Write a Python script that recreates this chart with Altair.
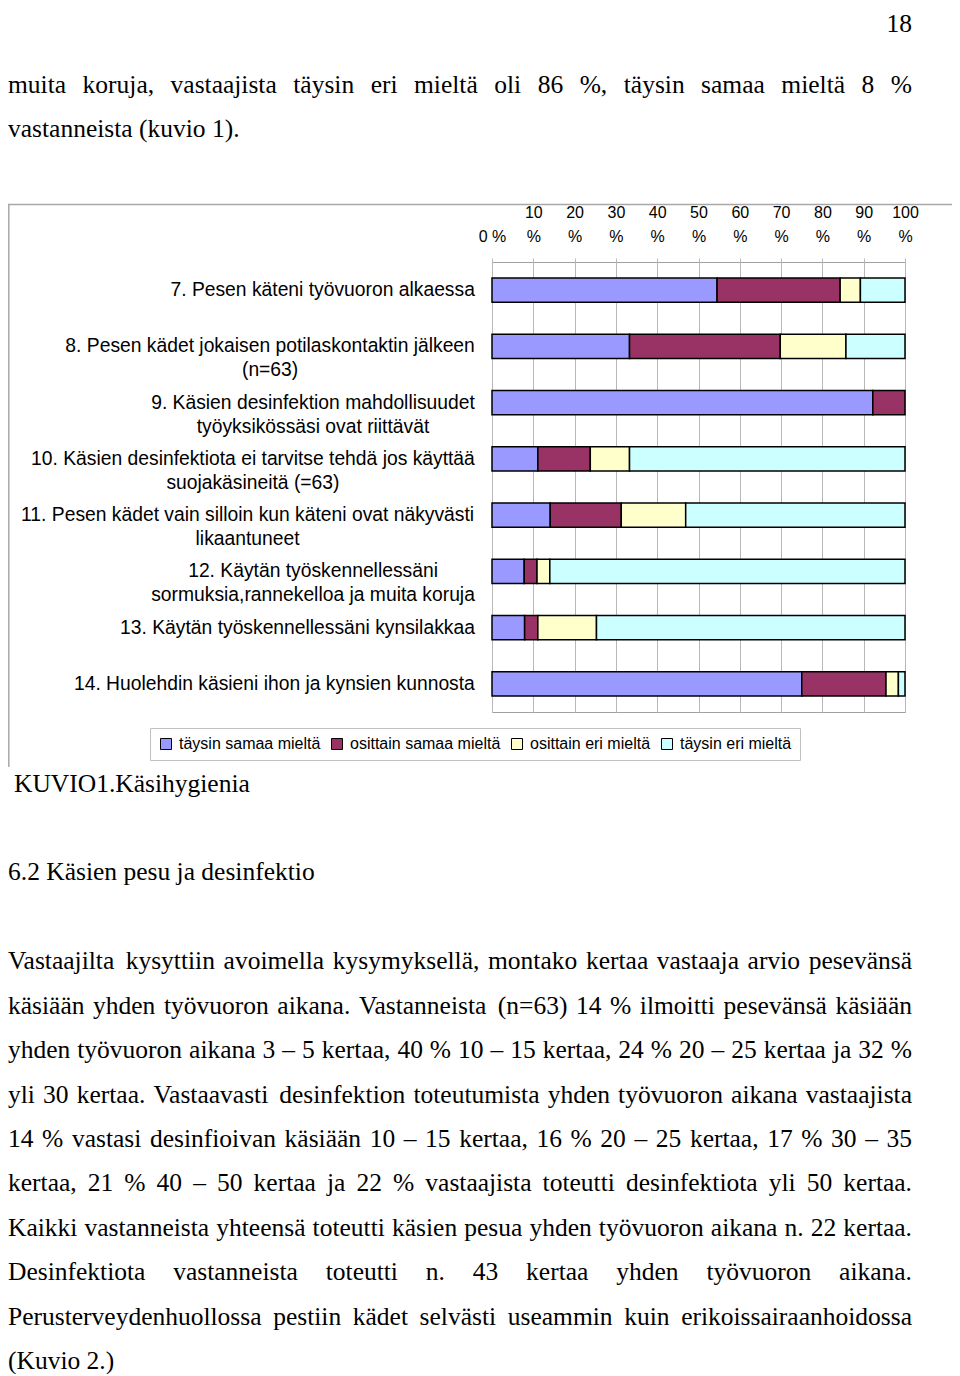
import altair as alt
import pandas as pd

# ---------------- data ----------------
categories = [
    "7. Pesen käteni työvuoron alkaessa",
    "8. Pesen kädet jokaisen potilaskontaktin jälkeen\n(n=63)",
    "9. Käsien desinfektion mahdollisuudet\ntyöyksikössäsi ovat riittävät",
    "10. Käsien desinfektiota ei tarvitse tehdä jos käyttää\nsuojakäsineitä (=63)",
    "11. Pesen kädet vain silloin kun käteni ovat näkyvästi\nlikaantuneet",
    "12. Käytän työskennellessäni\nsormuksia,rannekelloa ja muita koruja",
    "13. Käytän työskennellessäni kynsilakkaa",
    "14. Huolehdin käsieni ihon ja kynsien kunnosta",
]
series = ["täysin samaa mieltä", "osittain samaa mieltä", "osittain eri mieltä", "täysin eri mieltä"]
taysin_samaa = [54.5, 33.3, 92.2, 11.1, 14.1, 7.8, 7.9, 75.0]
osittain_samaa = [29.8, 36.5, 7.8, 12.7, 17.2, 3.1, 3.2, 20.4]
osittain_eri = [4.9, 15.9, 0.0, 9.5, 15.6, 3.1, 14.2, 3.0]
taysin_eri = [10.8, 14.3, 0.0, 66.7, 53.1, 86.0, 74.7, 1.6]
x_ticks = [0, 10, 20, 30, 40, 50, 60, 70, 80, 90, 100]

page_number = "18"
intro_lines = [
    "muita koruja, vastaajista täysin eri mieltä oli 86 %, täysin samaa mieltä 8 %",
    "vastanneista (kuvio 1).",
]
caption = "KUVIO1.Käsihygienia"
heading = "6.2 Käsien pesu ja desinfektio"
paragraph_lines = [
    "Vastaajilta kysyttiin avoimella kysymyksellä, montako kertaa vastaaja arvio pesevänsä",
    "käsiään yhden työvuoron aikana. Vastanneista (n=63) 14 % ilmoitti pesevänsä käsiään",
    "yhden työvuoron aikana 3 – 5 kertaa, 40 % 10 – 15 kertaa, 24 % 20 – 25 kertaa ja 32 %",
    "yli 30 kertaa. Vastaavasti desinfektion toteutumista yhden työvuoron aikana vastaajista",
    "14 % vastasi desinfioivan käsiään 10 – 15 kertaa, 16 % 20 – 25 kertaa, 17 % 30 – 35",
    "kertaa, 21 % 40 – 50 kertaa ja 22 % vastaajista toteutti desinfektiota yli 50 kertaa.",
    "Kaikki vastanneista yhteensä toteutti käsien pesua yhden työvuoron aikana n. 22 kertaa.",
    "Desinfektiota vastanneista toteutti n. 43 kertaa yhden työvuoron aikana.",
    "Perusterveydenhuollossa pestiin kädet selvästi useammin kuin erikoissairaanhoidossa",
    "(Kuvio 2.)",
]

# ---------------- styles / layout ----------------
colors = ["#9999FF", "#993366", "#FFFFCC", "#CCFFFF"]
SERIF = "Liberation Serif"
SANS = "Liberation Sans"
BODY_FS = 25.5
LABEL_FS = 19.3
PLOT_W, PLOT_H = 413, 450
VIEW_LEFT, VIEW_TOP = 492, 262      # page coords of the plot origin
TOTAL_W, TOTAL_H = 944, 1366


def vx(px):
    return px - VIEW_LEFT


def vy(py):
    return py - VIEW_TOP


# font metrics (units per 1000 em)
serif_w = {' ': 250, '.': 250, ',': 250, '(': 333, ')': 333, '%': 833, '–': 500, '=': 564, '-': 333}
serif_w.update({c: 500 for c in "0123456789"})
serif_w.update(dict(a=444, b=500, c=444, d=500, e=444, f=333, g=500, h=500, i=278, j=278, k=500, l=278,
                    m=778, n=500, o=500, p=500, q=500, r=333, s=389, t=278, u=500, v=500, w=722, x=500,
                    y=500, z=444))
serif_w.update({'ä': 444, 'ö': 500})
serif_w.update(dict(A=722, B=667, C=667, D=722, E=611, F=556, G=722, H=722, I=333, J=389, K=722, L=611,
                    M=889, N=722, O=722, P=556, Q=722, R=667, S=556, T=611, U=722, V=722, W=944, X=722,
                    Y=722, Z=611))
sans_w = {' ': 278, '.': 278, ',': 278, '(': 333, ')': 333, '=': 584, '%': 889}
sans_w.update({c: 556 for c in "0123456789"})
sans_w.update(dict(a=556, b=556, c=500, d=556, e=556, f=278, g=556, h=556, i=222, j=222, k=500, l=222,
                   m=833, n=556, o=556, p=556, q=556, r=333, s=500, t=278, u=556, v=500, w=722, x=500,
                   y=500, z=500))
sans_w.update({'ä': 556, 'ö': 556, 'H': 722, 'K': 667, 'P': 667})


def text_w(s, table, size):
    return sum(table.get(ch, 500) for ch in s) * size / 1000.0


# ---------------- bar data ----------------
bar_rows = []
for order, (name, vals) in enumerate(zip(series, [taysin_samaa, osittain_samaa, osittain_eri, taysin_eri])):
    for cat, v in zip(categories, vals):
        if v > 0:
            bar_rows.append({"category": cat, "series": name, "value": v, "order": order})
bars_df = pd.DataFrame(bar_rows)

# ---------------- category labels ----------------
label_rows = []
for cat in categories:
    maxw = max(text_w(line, sans_w, LABEL_FS) for line in cat.split("\n"))
    label_rows.append({"category": cat, "lx": vx(475) - maxw / 2.0})
labels_df = pd.DataFrame(label_rows)

# ---------------- body text (justified) ----------------
left_rows, right_rows = [], []


def add_line(text, x0, x1, base, justify):
    words = text.split(" ")
    widths = [text_w(w, serif_w, BODY_FS) for w in words]
    if justify and len(words) > 1:
        gap = (x1 - x0 - sum(widths)) / (len(words) - 1)
        x = x0
        for i, (w, wd) in enumerate(zip(words, widths)):
            if i == len(words) - 1:
                right_rows.append({"word": w, "px": vx(x1), "py": vy(base)})
            else:
                left_rows.append({"word": w, "px": vx(x), "py": vy(base)})
            x += wd + gap
    else:
        left_rows.append({"word": text, "px": vx(x0), "py": vy(base)})


add_line(intro_lines[0], 8, 912, 92.5, True)
add_line(intro_lines[1], 8, 912, 137, False)
add_line(caption, 14, 912, 792, False)
add_line(heading, 8, 912, 880, False)
for i, line in enumerate(paragraph_lines):
    add_line(line, 8, 912, 969.3 + 44.4 * i, i < len(paragraph_lines) - 1)
right_rows.append({"word": page_number, "px": vx(912), "py": vy(32)})
left_df = pd.DataFrame(left_rows)
right_df = pd.DataFrame(right_rows)

# ---------------- chart ----------------
y_scale = alt.Scale(paddingInner=0.573, paddingOuter=0.2865)

bars = alt.Chart(bars_df).mark_bar(stroke="black", strokeWidth=1.5).encode(
    x=alt.X("value:Q", stack="zero",
            scale=alt.Scale(domain=[0, 100], nice=False),
            axis=alt.Axis(orient="top", values=x_ticks, grid=True, gridColor="#b8b8b8",
                          ticks=True, tickSize=4, tickColor="#b8b8b8", domain=False,
                          labelFont=SANS, labelFontSize=16, labelColor="black",
                          labelLineHeight=24, labelPadding=38, labelFlush=False,
                          labelOverlap=False, title=None,
                          labelExpr="datum.value == 0 ? [' ', '0 %'] : [datum.label, '%']")),
    y=alt.Y("category:N", sort=categories, scale=y_scale, axis=None),
    color=alt.Color("series:N", scale=alt.Scale(domain=series, range=colors),
                    legend=alt.Legend(orient="none", legendX=vx(150), legendY=vy(728),
                                      direction="horizontal", title=None, symbolType="square",
                                      symbolSize=121, symbolStrokeColor="black", symbolStrokeWidth=1,
                                      labelFont=SANS, labelFontSize=16, labelColor="black",
                                      labelOffset=5, columnPadding=8, padding=8, labelLimit=400,
                                      strokeColor="#c0c0c0", fillColor="white")),
    order=alt.Order("order:Q", sort="ascending"),
)

cat_labels = alt.Chart(labels_df).mark_text(
    align="center", baseline="middle", lineBreak="\n", font=SANS, fontSize=LABEL_FS,
    lineHeight=24, color="black"
).encode(
    y=alt.Y("category:N", sort=categories, scale=y_scale, axis=None),
    x=alt.X("lx:Q", scale=None, axis=None),
    text="category:N",
)

body_left = alt.Chart(left_df).mark_text(
    align="left", baseline="alphabetic", font=SERIF, fontSize=BODY_FS, color="black"
).encode(
    x=alt.X("px:Q", scale=None, axis=None),
    y=alt.Y("py:Q", scale=None, axis=None),
    text="word:N",
)

body_right = alt.Chart(right_df).mark_text(
    align="right", baseline="alphabetic", font=SERIF, fontSize=BODY_FS, color="black"
).encode(
    x=alt.X("px:Q", scale=None, axis=None),
    y=alt.Y("py:Q", scale=None, axis=None),
    text="word:N",
)

frame_df = pd.DataFrame({"a": [0]})
frame_top = alt.Chart(frame_df).mark_rule(color="#a8a8a8", strokeWidth=1.5).encode(
    x=alt.value(vx(8)), x2=alt.value(vx(8) + TOTAL_W), y=alt.value(vy(204.5))
)
frame_left = alt.Chart(frame_df).mark_rule(color="#a8a8a8", strokeWidth=1.5).encode(
    x=alt.value(vx(8.8)), y=alt.value(vy(204.5)), y2=alt.value(vy(767))
)

chart = alt.layer(bars, cat_labels, body_left, body_right, frame_top, frame_left).properties(
    width=PLOT_W,
    height=PLOT_H,
    autosize=alt.AutoSizeParams(type="none"),
    padding={"left": VIEW_LEFT - 8, "top": VIEW_TOP - 8,
             "right": TOTAL_W - (VIEW_LEFT - 8) - PLOT_W,
             "bottom": TOTAL_H - (VIEW_TOP - 8) - PLOT_H},
    background="white",
).configure_view(stroke="#a0a0a0", strokeWidth=1)

chart.save("out.html", embed_options={"renderer": "svg", "actions": False})
